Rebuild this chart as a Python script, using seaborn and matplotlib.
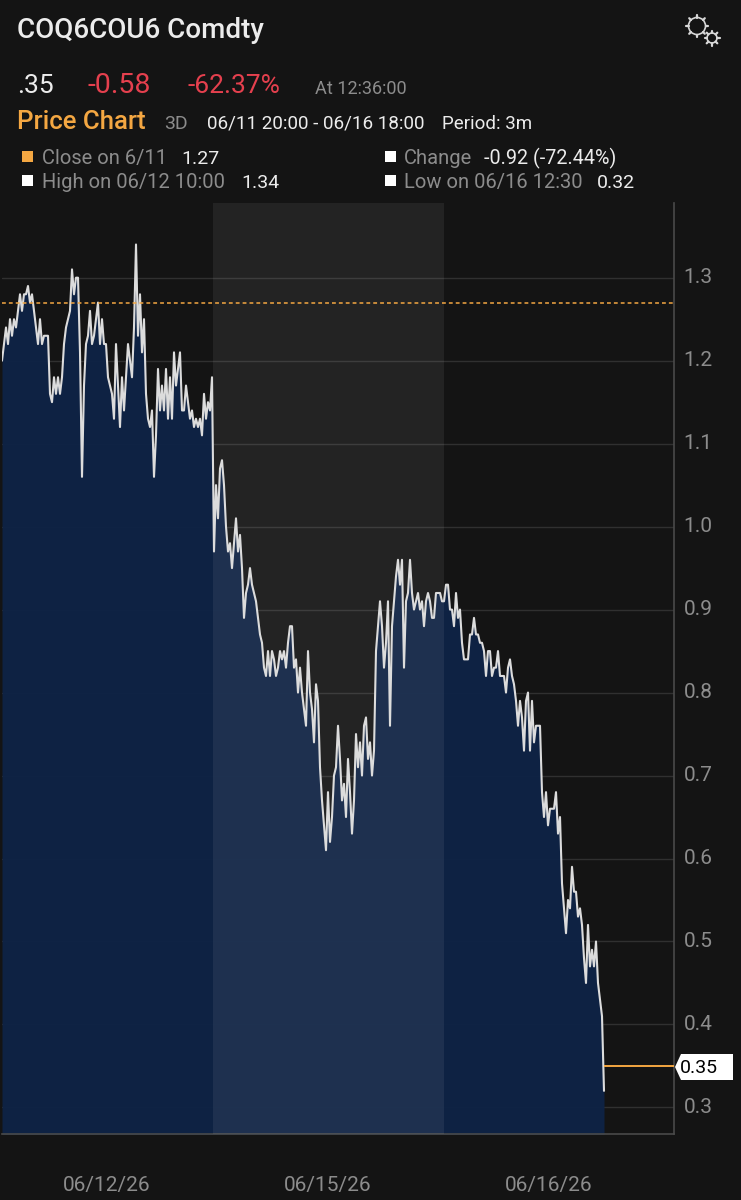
#!/usr/bin/env python3
"""
Recreate the COQ6COU6 Comdty price chart.
"""

import numpy as np
import pandas as pd
import matplotlib
matplotlib.use('Agg')
import matplotlib.pyplot as plt
from matplotlib.patches import Circle, Polygon, Rectangle
from matplotlib.transforms import ScaledTranslation
import seaborn as sns

# Data, one close per bar
session_1 = [
    1.20, 1.22, 1.24, 1.22, 1.25, 1.23, 1.25, 1.24, 1.26, 1.28, 1.26, 1.28, 1.28, 1.29, 1.27, 1.28,
    1.26, 1.24, 1.22, 1.25, 1.22, 1.23, 1.23, 1.23, 1.16, 1.15, 1.18, 1.16, 1.18, 1.16, 1.18, 1.22,
    1.24, 1.25, 1.26, 1.31, 1.28, 1.30, 1.30, 1.21, 1.06, 1.17, 1.22, 1.23, 1.26, 1.22, 1.23, 1.25,
    1.27, 1.22, 1.25, 1.22, 1.22, 1.18, 1.17, 1.16, 1.13, 1.22, 1.17, 1.12, 1.18, 1.14, 1.18, 1.22,
    1.20, 1.18, 1.24, 1.34, 1.23, 1.28, 1.21, 1.25, 1.16, 1.13, 1.12, 1.14, 1.06, 1.11, 1.19, 1.14,
    1.17, 1.14, 1.19, 1.13, 1.18, 1.13, 1.21, 1.17, 1.19, 1.21, 1.14, 1.14, 1.17, 1.15, 1.13, 1.14,
    1.12, 1.13, 1.12, 1.13, 1.11, 1.16, 1.13, 1.15, 1.14, 1.18,
]
session_2 = [
    0.97, 1.05, 1.01, 1.07, 1.08, 1.05, 1.00, 0.97, 0.98, 0.95, 0.98, 1.01, 0.97, 0.99,
    0.95, 0.89, 0.92, 0.93, 0.95, 0.93, 0.92, 0.91, 0.89, 0.87, 0.86, 0.83, 0.82, 0.85, 0.82, 0.85,
    0.84, 0.82, 0.83, 0.85, 0.84, 0.85, 0.83, 0.86, 0.88, 0.88, 0.83, 0.84, 0.80, 0.83, 0.80, 0.78,
    0.76, 0.85, 0.80, 0.78, 0.74, 0.81, 0.79, 0.71, 0.67, 0.64, 0.61, 0.68, 0.62, 0.65, 0.70, 0.71,
    0.76, 0.72, 0.67, 0.69, 0.65, 0.72, 0.68, 0.63, 0.67, 0.75, 0.71, 0.74, 0.70, 0.76, 0.77, 0.72,
    0.74, 0.70, 0.73, 0.85, 0.88, 0.91, 0.88, 0.83, 0.86, 0.91, 0.76, 0.88, 0.91, 0.94, 0.96, 0.93,
    0.96, 0.83, 0.91, 0.92, 0.96, 0.92, 0.90, 0.91, 0.92, 0.90, 0.91, 0.88, 0.91, 0.92, 0.91, 0.89,
    0.89, 0.92, 0.92, 0.92, 0.91, 0.91,
]
session_3 = [
    0.93, 0.93, 0.90, 0.90, 0.88, 0.92, 0.89, 0.90, 0.86, 0.84, 0.84, 0.84, 0.87,
    0.87, 0.89, 0.87, 0.87, 0.86, 0.86, 0.85, 0.82, 0.85, 0.85, 0.82, 0.83, 0.83, 0.85, 0.82, 0.82,
    0.82, 0.80, 0.83, 0.84, 0.82, 0.81, 0.79, 0.76, 0.79, 0.77, 0.73, 0.79, 0.80, 0.73, 0.79, 0.74,
    0.76, 0.76, 0.76, 0.68, 0.65, 0.68, 0.64, 0.66, 0.66, 0.66, 0.68, 0.63, 0.65, 0.57,
    0.54, 0.51, 0.55, 0.54, 0.59, 0.56, 0.56, 0.53, 0.54, 0.52, 0.48, 0.45, 0.52, 0.47, 0.49, 0.47,
    0.50, 0.45, 0.43, 0.41, 0.32,
]
y_ticks = [0.3, 0.4, 0.5, 0.6, 0.7, 0.8, 0.9, 1.0, 1.1, 1.2, 1.3]
date_labels = ['06/12/26', '06/15/26', '06/16/26']
date_bars = [52.5, 163, 273.5]
prev_close = 1.27
last_price = 0.35

df = pd.DataFrame({'price': session_1 + session_2 + session_3})
df['bar'] = np.arange(len(df))
band_start = len(session_1) - 0.5
band_end = len(session_1) + len(session_2) - 1

BG = '#141414'
GRAY = '#8c8c8c'
ORANGE = '#f4a742'
RED = '#e5404e'
WHITE = '#ececec'

sns.set_theme(style='dark', rc={'axes.facecolor': BG, 'figure.facecolor': BG})
plt.rcParams['font.family'] = ['Roboto', 'DejaVu Sans']

W, H = 741, 1200
fig = plt.figure(figsize=(W / 100, H / 100), dpi=100)

# Main chart
left, right, top, bottom = 2, 674, 203, 1134
ax = fig.add_axes([left / W, 1 - bottom / H, (right - left) / W, (bottom - top) / H])
for t in y_ticks:
    ax.axhline(t, color='#ffffff', alpha=0.12, lw=1, zorder=0.5)
ax.fill_between(df['bar'], df['price'], 0, color='#0e2346', alpha=0.95, lw=0, zorder=1)
ax.axvspan(band_start, band_end, color='#ffffff', alpha=0.065, lw=0, zorder=3)
ax.axhline(prev_close, color=ORANGE, lw=1.1, ls=(0, (2.5, 2)), zorder=5)
sns.lineplot(data=df, x='bar', y='price', ax=ax, color='#dcdcdc', lw=1.5, zorder=4, estimator=None)
ax.hlines(last_price, df['bar'].iloc[-1], 336, color=ORANGE, lw=1.4, zorder=5)

ax.set_xlim(0, 336)
ax.set_ylim(0.268, 1.390)
ax.set_xlabel('')
ax.set_ylabel('')
ax.yaxis.tick_right()
ax.set_yticks(y_ticks)
ax.set_yticklabels([f'{t:.1f}' for t in y_ticks], color=GRAY, fontsize=15)
ax.set_xticks(date_bars)
ax.set_xticklabels(date_labels, color=GRAY, fontsize=15)
ax.tick_params(axis='y', length=0, pad=7)
ax.tick_params(axis='x', length=0, pad=30)
ax.grid(False)
nudge = ScaledTranslation(0, 2 / 100, fig.dpi_scale_trans)
for lbl in ax.get_yticklabels():
    lbl.set_transform(lbl.get_transform() + nudge)
for side, spine in ax.spines.items():
    spine.set_visible(side in ('right', 'bottom'))
    spine.set_color('#4a4a4a')
    spine.set_linewidth(1.2)

# Header and price tag, laid out in picture pixels
hdr = fig.add_axes([0, 0, 1, 1])
hdr.set_xlim(0, W)
hdr.set_ylim(H, 0)
hdr.axis('off')
hdr.patch.set_alpha(0)


def label(x, y, s, color=GRAY, size=14.5, **kw):
    hdr.text(x, y, s, color=color, fontsize=size, va='baseline', ha='left', **kw)


label(17, 38, 'COQ6COU6 Comdty', color=WHITE, size=20, fontweight='medium')
label(17, 93, '.35', color=WHITE, size=19)
label(88, 93, '-0.58', color=RED, size=20.5)
label(187, 93, '-62.37%', color=RED, size=19)
label(315, 94, 'At 12:36:00', size=13)
label(17, 129, 'Price Chart', color=ORANGE, size=18.5, fontweight='medium')
label(164, 129, '3D', size=14)
label(207, 129, '06/11 20:00 - 06/16 18:00', color=WHITE, size=13.6)
label(442, 129, 'Period: 3m', color=WHITE, size=13.5)
label(42, 164, 'Close on 6/11')
label(181, 164, '1.27', color=WHITE, size=14)
label(404, 164, 'Change')
label(484, 164, '-0.92 (-72.44%)', color=WHITE, size=14.2)
label(42, 188, 'High on 06/12 10:00')
label(241, 188, '1.34', color=WHITE, size=14)
label(404, 188, 'Low on 06/16 12:30')
label(597, 188, '0.32', color=WHITE, size=14)

for x, y, c in [(22, 151, ORANGE), (22, 175, 'white'), (385, 151, 'white'), (385, 175, 'white')]:
    hdr.add_patch(Rectangle((x, y), 11, 11, color=c, lw=0))

# Gear icon
for cx, cy, r, n in [(697, 26, 8.5, 8), (712, 38, 5, 8)]:
    hdr.add_patch(Circle((cx, cy), r, fill=False, ec='#d8d8d8', lw=1.2))
    for a in np.arange(n) * 2 * np.pi / n:
        hdr.plot([cx + r * np.cos(a), cx + (r + 2.5) * np.cos(a)],
                 [cy + r * np.sin(a), cy + (r + 2.5) * np.sin(a)], color='#d8d8d8', lw=1.6)

# Last price tag
hdr.add_patch(Polygon([(675, 1067), (681, 1054), (733, 1054), (733, 1080), (681, 1080)],
                      closed=True, color='white', lw=0))
hdr.text(680, 1073, '0.35', color='black', fontsize=14, va='baseline', ha='left')

fig.savefig('out.png', dpi=100, facecolor=BG)
